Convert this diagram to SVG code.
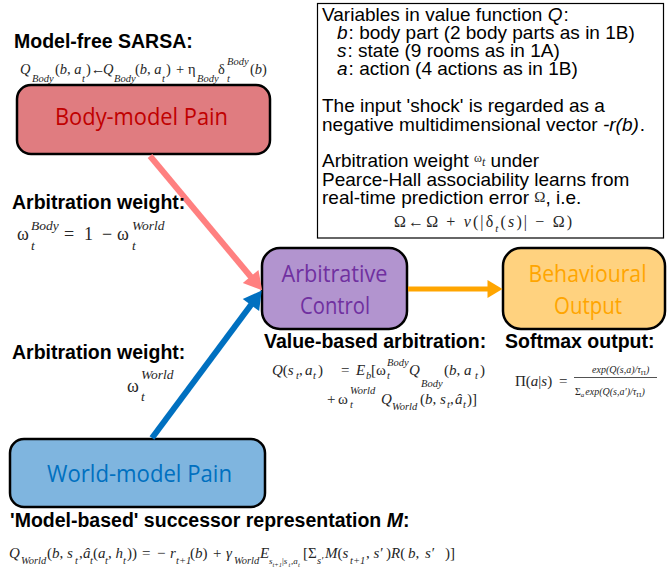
<svg xmlns="http://www.w3.org/2000/svg" width="668" height="576" viewBox="0 0 668 576">
<defs>
<style>
.lbl{font-family:"Liberation Sans",Arial,sans-serif;font-weight:bold;font-size:19.5px;fill:#000}
.bx{font-family:"Liberation Sans",Arial,sans-serif;font-size:19px;fill:#000}
.m{font-family:"Liberation Serif","Times New Roman",serif;fill:#262626}
.i{font-style:italic}
.s{font-style:italic;font-size:10.5px}
.node{stroke:#000;stroke-width:2.5}
.nt{font-family:"Open Sans","Noto Sans",sans-serif;font-size:24px;text-anchor:middle}
</style>
<marker id="ahP" markerWidth="3" markerHeight="3.4" refX="0.1" refY="1.7" orient="auto" markerUnits="strokeWidth" overflow="visible"><path d="M0,0 L3,1.7 L0,3.4 Z" fill="#FF8080"/></marker>
<marker id="ahB" markerWidth="3" markerHeight="3.4" refX="0.1" refY="1.7" orient="auto" markerUnits="strokeWidth" overflow="visible"><path d="M0,0 L3,1.7 L0,3.4 Z" fill="#0070C0"/></marker>
<marker id="ahO" markerWidth="3" markerHeight="3.6" refX="0.1" refY="1.8" orient="auto" markerUnits="strokeWidth" overflow="visible"><path d="M0,0 L3,1.8 L0,3.6 Z" fill="#FFA500"/></marker>
</defs>
<rect width="668" height="576" fill="#fff"/>

<g id="body-model-pain">
<rect class="node" x="17" y="85" width="253" height="69" rx="14" fill="#E07C80"/>
<text class="nt" x="141.5" y="125" fill="#C00000" textLength="173" lengthAdjust="spacingAndGlyphs">Body-model Pain</text>
</g>
<g id="world-model-pain">
<rect class="node" x="10" y="439" width="255" height="68" rx="14" fill="#7FB5DF"/>
<text class="nt" x="139.5" y="482" fill="#0070C0" textLength="185" lengthAdjust="spacingAndGlyphs">World-model Pain</text>
</g>
<g id="arbitrative-control">
<rect class="node" x="262" y="248" width="145" height="81" rx="18" fill="#B294CF"/>
<text class="nt" x="334.5" y="282" fill="#7030A0" textLength="106" lengthAdjust="spacingAndGlyphs">Arbitrative</text>
<text class="nt" x="335" y="314" fill="#7030A0" textLength="70" lengthAdjust="spacingAndGlyphs">Control</text>
</g>
<g id="behavioural-output">
<rect class="node" x="503" y="248" width="162" height="81" rx="18" fill="#FFD27F"/>
<text class="nt" x="587.5" y="282" fill="#FFA500" textLength="118" lengthAdjust="spacingAndGlyphs">Behavioural</text>
<text class="nt" x="588" y="314" fill="#FFA500" textLength="68" lengthAdjust="spacingAndGlyphs">Output</text>
</g>

<g id="connectors">
<line x1="150" y1="156" x2="251" y2="277" stroke="#FF8080" stroke-width="6" marker-end="url(#ahP)"/>
<line x1="152" y1="438" x2="251.3" y2="304.5" stroke="#0070C0" stroke-width="6" marker-end="url(#ahB)"/>
<line x1="408" y1="289" x2="488" y2="289" stroke="#FFA500" stroke-width="5" marker-end="url(#ahO)"/>
</g>

<g id="info-box">
<rect x="317.5" y="3.5" width="346" height="234.5" fill="none" stroke="#000" stroke-width="1.2"/>
<text class="bx" x="322" y="21">Variables in value function <tspan class="i">Q</tspan><tspan dx="1">:</tspan></text>
<text class="bx" x="337" y="39"><tspan class="i">b</tspan><tspan dx="1">: body part (2 body parts as in 1B)</tspan></text>
<text class="bx" x="337" y="57"><tspan class="i">s</tspan><tspan dx="1">: state (9 rooms as in 1A)</tspan></text>
<text class="bx" x="337" y="75"><tspan class="i">a</tspan><tspan dx="1">: action (4 actions as in 1B)</tspan></text>
<text class="bx" x="322" y="112">The input 'shock' is regarded as a</text>
<text class="bx" x="322" y="131">negative multidimensional vector <tspan class="i">-r(b)</tspan><tspan dx="1">.</tspan></text>
<text class="bx" x="322" y="167">Arbitration weight <tspan class="m" font-size="12" dy="-5">ω</tspan><tspan class="m i" font-size="12" dy="4">t</tspan><tspan dy="1"> under</tspan></text>
<text class="bx" x="322" y="186">Pearce-Hall associability learns from</text>
<text class="bx" x="322" y="204">real-time prediction error <tspan class="m" font-size="15" dy="-2">Ω</tspan><tspan dy="2">, i.e.</tspan></text>
<text class="m" font-size="16" x="394" y="227" textLength="178" lengthAdjust="spacing">Ω←Ω + <tspan class="i">ν</tspan>(|δ<tspan class="i" font-size="11" dy="5">t</tspan><tspan dy="-5">(</tspan><tspan class="i">s</tspan>)| − Ω)</text>
</g>

<g id="labels">
<text class="lbl" x="14" y="48">Model-free SARSA:</text>
<text class="lbl" x="12" y="209">Arbitration weight:</text>
<text class="lbl" x="12" y="359">Arbitration weight:</text>
<text class="lbl" x="264" y="348" font-size="20">Value-based arbitration:</text>
<text class="lbl" x="505" y="348" font-size="20.5">Softmax output:</text>
<text class="lbl" x="10" y="527" font-size="20">'Model-based' successor representation <tspan font-style="italic">M</tspan>:</text>
</g>

<g id="formulas">
<text class="m" font-size="14.5"><tspan x="20" y="74" class="i">Q</tspan><tspan x="32" y="82" class="s">Body</tspan><tspan x="55" y="74">(</tspan><tspan class="i">b</tspan>, <tspan class="i">a</tspan><tspan x="82" y="82" class="s">t</tspan><tspan x="86" y="74">)←</tspan><tspan x="103" class="i">Q</tspan><tspan x="114" y="82" class="s">Body</tspan><tspan x="135" y="74">(</tspan><tspan class="i">b</tspan>, <tspan class="i">a</tspan><tspan x="162" y="82" class="s">t</tspan><tspan x="166" y="74">)</tspan><tspan x="176">+</tspan><tspan x="188">η</tspan><tspan x="197" y="82" class="s">Body</tspan><tspan x="218" y="74">δ</tspan><tspan x="227" y="65" class="s">Body</tspan><tspan x="227" y="82" class="s">t</tspan><tspan x="250" y="74">(</tspan><tspan class="i">b</tspan>)</text>

<text class="m" font-size="18"><tspan x="17" y="240">ω</tspan><tspan x="31" y="250" class="i" font-size="13.5">t</tspan><tspan x="31" y="230" class="i" font-size="13.5">Body</tspan><tspan x="64" y="240">=</tspan><tspan x="84">1</tspan><tspan x="102">−</tspan><tspan x="117">ω</tspan><tspan x="132" y="250" class="i" font-size="13.5">t</tspan><tspan x="132" y="230" class="i" font-size="13.5">World</tspan></text>

<text class="m" font-size="18"><tspan x="127" y="392">ω</tspan><tspan x="141" y="401" class="i" font-size="13.5">t</tspan><tspan x="141" y="379" class="i" font-size="13.5">World</tspan></text>

<text class="m" font-size="15"><tspan x="272" y="375" class="i">Q</tspan><tspan>(</tspan><tspan class="i">s</tspan><tspan x="296" y="379" class="s">t</tspan><tspan x="299" y="375">,</tspan><tspan x="305" class="i">a</tspan><tspan x="313" y="379" class="s">t</tspan><tspan x="318" y="375">)</tspan><tspan x="341">=</tspan><tspan x="356" class="i">E</tspan><tspan x="366" y="379" class="s">b</tspan><tspan x="371" y="375">[ω</tspan><tspan x="387" y="366" class="s">Body</tspan><tspan x="387" y="379" class="s">t</tspan><tspan x="409" y="375" class="i">Q</tspan><tspan x="421" y="387" class="s">Body</tspan><tspan x="444" y="375">(</tspan><tspan class="i">b</tspan>, <tspan class="i">a</tspan><tspan x="475" y="379" class="s">t</tspan><tspan x="480" y="375">)</tspan></text>

<text class="m" font-size="15"><tspan x="327" y="404">+</tspan><tspan x="338">ω</tspan><tspan x="350" y="394" class="s">World</tspan><tspan x="350" y="408" class="s">t</tspan><tspan x="381" y="404" class="i">Q</tspan><tspan x="392" y="410" class="s">World</tspan><tspan x="420" y="404">(</tspan><tspan class="i">b</tspan>, <tspan class="i">s</tspan><tspan x="447" y="408" class="s">t</tspan><tspan x="450" y="404">,</tspan><tspan x="455" class="i">â</tspan><tspan x="463" y="408" class="s">t</tspan><tspan x="467" y="404">)]</tspan></text>

<text class="m" font-size="15"><tspan x="515" y="386">Π(</tspan><tspan class="i">a</tspan>|<tspan class="i">s</tspan>)<tspan x="559">=</tspan></text>
<line x1="574" y1="377.5" x2="657" y2="377.5" stroke="#262626" stroke-width="0.8"/>
<text class="m i" font-size="10"><tspan x="592" y="373">exp(Q(s,a)/τ</tspan><tspan font-size="7" dy="2" font-style="normal">Π</tspan><tspan dy="-2">)</tspan></text>
<text class="m i" font-size="10"><tspan x="575" y="395" font-style="normal">Σ</tspan><tspan font-size="7" dy="2">a</tspan><tspan dy="-2" dx="1">exp(Q(s,a′)/τ</tspan><tspan font-size="7" dy="2" font-style="normal">Π</tspan><tspan dy="-2">)</tspan></text>

<text class="m" font-size="15"><tspan x="9" y="558" class="i">Q</tspan><tspan x="21" y="564" class="s">World</tspan><tspan x="47" y="558">(</tspan><tspan class="i">b</tspan>, <tspan class="i">s</tspan><tspan x="75" y="564" class="s">t</tspan><tspan x="79" y="558">,</tspan><tspan x="83" class="i">â</tspan><tspan x="90" y="564" class="s">t</tspan><tspan x="93" y="558">(</tspan><tspan class="i">a</tspan><tspan x="105" y="564" class="s">t</tspan><tspan x="108" y="558">, </tspan><tspan class="i">h</tspan><tspan x="123" y="564" class="s">t</tspan><tspan x="127" y="558">))</tspan><tspan x="142">=</tspan><tspan x="157">−</tspan><tspan x="170" class="i">r</tspan><tspan x="176" y="564" class="s">t+1</tspan><tspan x="190" y="558">(</tspan><tspan class="i">b</tspan>)<tspan x="213">+</tspan><tspan x="226" class="i">γ</tspan><tspan x="234" y="564" class="s">World</tspan><tspan x="260" y="558" class="i">E</tspan><tspan x="269" y="564" class="i" font-size="9">s</tspan><tspan x="272.5" y="567" class="i" font-size="6.5">t+1</tspan><tspan x="282" y="564" font-size="9">|</tspan><tspan class="i" font-size="9">s</tspan><tspan x="288.5" y="567" class="i" font-size="6.5">t</tspan><tspan x="291" y="564" font-size="9">,</tspan><tspan class="i" font-size="9">a</tspan><tspan x="298" y="567" class="i" font-size="6.5">t</tspan><tspan x="303" y="558">[Σ</tspan><tspan x="317" y="564" class="s">s′</tspan><tspan x="325" y="558" class="i">M</tspan><tspan>(</tspan><tspan class="i">s</tspan><tspan x="350" y="564" class="s">t+1</tspan><tspan x="366" y="558">, </tspan><tspan class="i">s′</tspan><tspan x="386">)</tspan><tspan class="i">R</tspan><tspan>(</tspan><tspan x="408" class="i">b</tspan>, <tspan x="425" class="i">s′</tspan><tspan x="445">)]</tspan></text>
</g>
</svg>
